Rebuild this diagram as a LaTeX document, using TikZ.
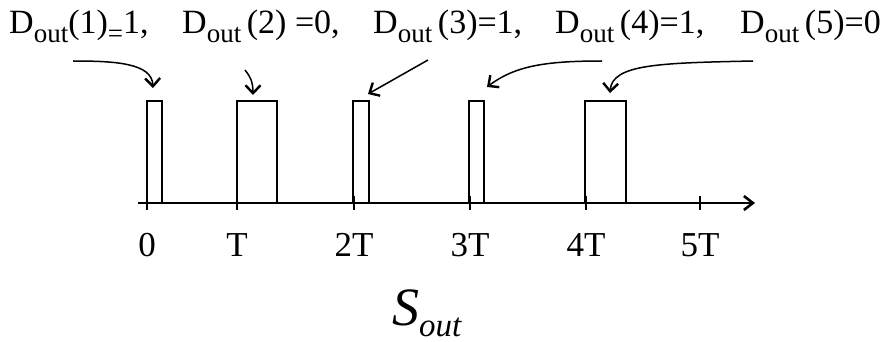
\documentclass[tikz,border=0pt]{standalone}
\usepackage{fontspec}
\setmainfont{Liberation Serif}
\usetikzlibrary{arrows.meta}
\newcommand{\mysub}[1]{\raisebox{-9pt}{\fontsize{27}{27}\selectfont #1}}
\newcommand{\Dout}{D\mysub{out}}
\tikzset{
  toplabel/.style={anchor=base west, inner sep=0pt, font=\fontsize{34}{34}\selectfont},
  ticklabel/.style={anchor=base, inner sep=0pt, font=\fontsize{35}{35}\selectfont},
  pulse/.style={draw=black, line width=1.4pt},
  pointer/.style={draw=black, line width=1.5pt, -{Straight Barb[length=8pt,width=15pt,line width=2.4pt]}},
  axisline/.style={draw=black, line width=2.6pt, -{Straight Barb[length=9pt,width=14pt]}},
  tickmark/.style={draw=black, line width=1.8pt},
}
\begin{document}
\begin{tikzpicture}[x=1pt,y=-1pt]
\useasboundingbox (0,0) rectangle (880,342);
% top labels
\node[toplabel] (L1) at (9,34) {\Dout(1)\mysub{=}1,};
\node[toplabel] (L2) at (182,34) {\Dout\,(2) =0,};
\node[toplabel] (L3) at (373,34) {\Dout\,(3)=1,};
\node[toplabel] (L4) at (555,34) {\Dout\,(4)=1,};
\node[toplabel] (L5) at (740,34) {\Dout\,(5)=0};
% pulses
\draw[pulse] (147,203) -- (147,101) -- (162,101) -- (162,203);
\draw[pulse] (237,203) -- (237,101) -- (277,101) -- (277,203);
\draw[pulse] (353,203) -- (353,101) -- (369,101) -- (369,203);
\draw[pulse] (469,203) -- (469,101) -- (484,101) -- (484,203);
\draw[pulse] (585,203) -- (585,101) -- (626,101) -- (626,203);
% axis
\coordinate (ax0) at (138,203);
\coordinate (ax1) at (755,203);
\draw[axisline] (ax0) -- (ax1);
\foreach \x/\t in {147/0,237/T,354/2T,470/3T,586/4T,700/5T}{
  \draw[tickmark] (\x,196) -- (\x,210);
  \node[ticklabel] (t\t) at (\x,256) {\t};
}
% pointers
\coordinate (s1) at (73,61);  \coordinate (e1) at (153,88);
\coordinate (s2) at (245,70); \coordinate (e2) at (253,95);
\coordinate (s3) at (428,60); \coordinate (e3) at (368,94);
\coordinate (s4) at (602,61); \coordinate (e4) at (487,87);
\coordinate (s5) at (753,61); \coordinate (e5) at (610,93);
\draw[pointer] (s1) .. controls (115,61) and (152,63) .. (e1);
\draw[pointer] (s2) .. controls (250,76) and (253,82) .. (e2);
\draw[pointer] (s3) -- (e3);
\draw[pointer] (s4) .. controls (545,61) and (515,66) .. (e4);
\draw[pointer] (s5) .. controls (660,63) and (612,64) .. (e5);
% title
\node[anchor=base west, inner sep=0pt, font=\fontsize{54}{54}\itshape\selectfont] (S) at (392,325) {S\raisebox{-11pt}{\fontsize{33}{33}\selectfont out}};
\end{tikzpicture}
\end{document}
